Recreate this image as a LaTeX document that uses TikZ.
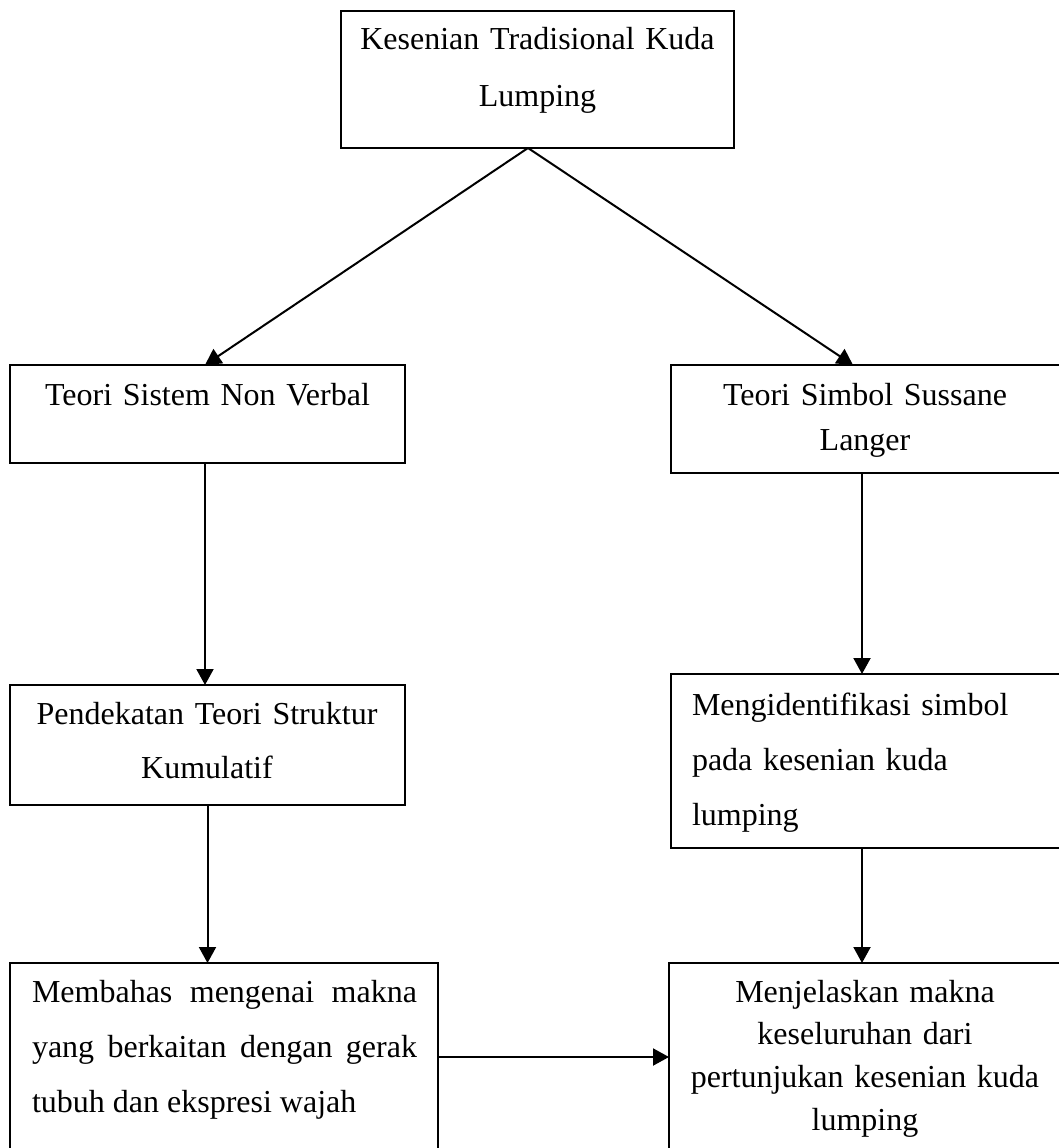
\documentclass[tikz,border=0pt]{standalone}
\usepackage{fontspec}
\setmainfont{Liberation Serif}[Ligatures=CommonOff]
\usetikzlibrary{arrows.meta}
\begin{document}
\begin{tikzpicture}[x=1pt,y=-1pt,
  box/.style={draw, line width=2pt, inner sep=0pt, outer sep=0pt, anchor=north west},
  lbl/.style={inner sep=0pt, outer sep=0pt, font=\fontsize{32}{#1}\selectfont},
  lbl/.default=55,
  arr/.style={line width=2pt, -{Triangle[length=16pt,width=17pt]}}]
\useasboundingbox (0,0) rectangle (1059,1148);
\fill[white] (0,0) rectangle (1059,1148);
\clip (0,0) rectangle (1059,1148);
% boxes
\node[box, minimum width=393pt, minimum height=137pt] (top) at (341,11) {};
\node[box, minimum width=395pt, minimum height=98pt] (sistem) at (10,365) {};
\node[box, minimum width=390pt, minimum height=108pt] (simbol) at (671,365) {};
\node[box, minimum width=395pt, minimum height=120pt] (pendekatan) at (10,685) {};
\node[box, minimum width=390pt, minimum height=174pt] (ident) at (671,674) {};
\node[box, minimum width=428pt, minimum height=200pt] (membahas) at (10,963) {};
\node[box, minimum width=392pt, minimum height=200pt] (menjelaskan) at (669,963) {};
% texts
\node[lbl=57, text width=390pt, align=center, anchor=base] (top-t) at (537.5,50) {Kesenian Tradisional Kuda\\Lumping};
\node[lbl, text width=390pt, align=center, anchor=base] (sistem-t) at (207.5,405) {Teori Sistem Non Verbal};
\node[lbl=45, text width=385pt, align=center, anchor=base] (simbol-t) at (865,405) {Teori Simbol Sussane\\Langer};
\node[lbl=54, text width=390pt, align=center, anchor=base] (pendekatan-t) at (207,724) {Pendekatan Teori Struktur\\Kumulatif};
\node[lbl=55, text width=360pt, align=left, anchor=base west] (ident-t) at (692,715) {Mengidentifikasi simbol\\pada kesenian kuda\\lumping};
\node[lbl=55, text width=385pt, align=justify, anchor=base west] (membahas-t) at (32,1002) {\hyphenpenalty=10000 Membahas mengenai makna\linebreak yang berkaitan dengan gerak\linebreak tubuh dan ekspresi wajah};
\node[lbl=42.7, text width=385pt, align=center, anchor=base] (menjelaskan-t) at (865,1002) {Menjelaskan makna\\keseluruhan dari\\pertunjukan kesenian kuda\\lumping};
% connectors
\draw[arr] ([xshift=-9.5pt]top.south) -- ([xshift=-2.5pt]sistem.north);
\draw[arr] ([xshift=-9.5pt]top.south) -- ([xshift=-13pt]simbol.north);
\draw[arr] ([xshift=-2.5pt]sistem.south) -- ([xshift=-2.5pt]pendekatan.north);
\draw[arr] (pendekatan.south) -- (pendekatan.south |- membahas.north);
\draw[arr] ([xshift=-4pt]simbol.south) -- ([xshift=-4pt]ident.north);
\draw[arr] ([xshift=-4pt]ident.south) -- ([xshift=-4pt]ident.south |- menjelaskan.north);
\draw[arr] ([yshift=-94pt]membahas.north east) -- ([yshift=-94pt]menjelaskan.north west);
\end{tikzpicture}
\end{document}
